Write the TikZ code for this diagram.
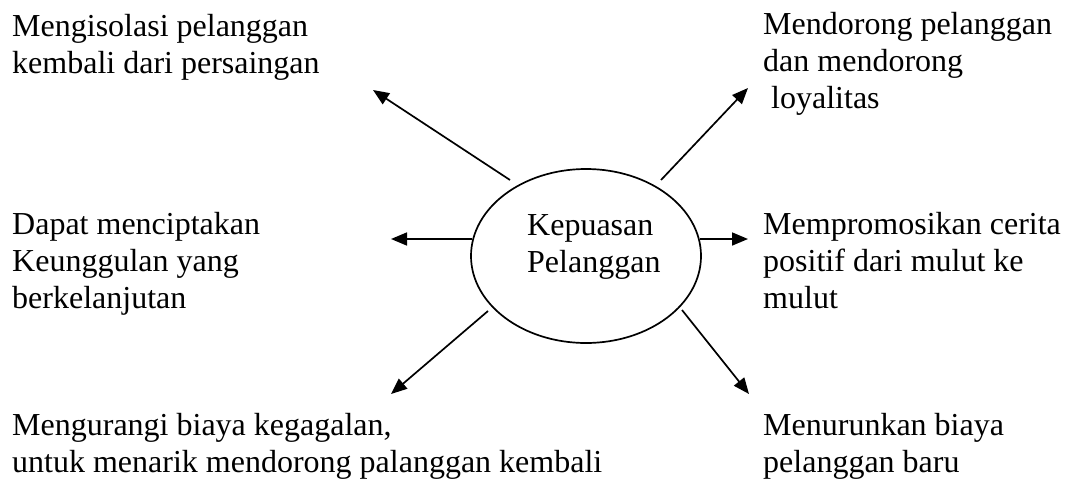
\documentclass[tikz,border=0pt]{standalone}
\usepackage{fontspec}
\setmainfont{Liberation Serif}
\usetikzlibrary{arrows.meta,shapes.geometric}
\begin{document}
\begin{tikzpicture}[x=1pt,y=-1pt,
  lbl/.style={anchor=base west,align=left,inner sep=0pt,font=\fontsize{32}{37}\selectfont},
  arr/.style={line width=1.7pt,-{Triangle[length=16pt,width=13pt]}},
  oval/.style={draw,line width=1.7pt,ellipse,minimum width=230pt,minimum height=174pt,inner sep=0pt}]
\useasboundingbox (0,0) rectangle (1070,482);
\node[oval] (c) at (586,256) {};
\node[lbl] (ct) at (527,272) {Kepuasan\\Pelanggan};
\node[lbl] (t1) at (12,73) {Mengisolasi pelanggan\\kembali dari persaingan};
\node[lbl] (t2) at (763,108) {Mendorong pelanggan\\dan mendorong\\\hspace*{8pt}loyalitas};
\node[lbl] (t3) at (12,308) {Dapat menciptakan\\Keunggulan yang\\berkelanjutan};
\node[lbl] (t4) at (763,308) {Mempromosikan cerita\\positif dari mulut ke\\mulut};
\node[lbl] (t5) at (12,472) {Mengurangi biaya kegagalan,\\untuk menarik mendorong palanggan kembali};
\node[lbl] (t6) at (763,472) {Menurunkan biaya\\pelanggan baru};
\coordinate (s1) at (510,180); \coordinate (e1) at (373,90);
\coordinate (s2) at (661,180); \coordinate (e2) at (748,88);
\coordinate (s3) at (472,239); \coordinate (e3) at (391,239);
\coordinate (s4) at (700,239); \coordinate (e4) at (748,239);
\coordinate (s5) at (488,311); \coordinate (e5) at (391,394);
\coordinate (s6) at (682,310); \coordinate (e6) at (749,394);
\foreach \i in {1,...,6} {\draw[arr] (s\i) -- (e\i);}
\end{tikzpicture}
\end{document}
